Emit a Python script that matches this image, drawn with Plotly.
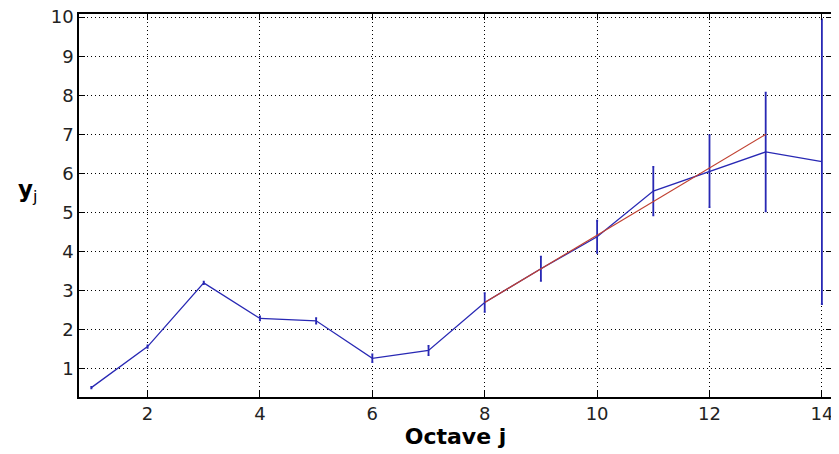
"""Logscale diagram: y_j vs octave j, with error bars and linear fit."""
import plotly.graph_objects as go

# --- data ---
octave = [1, 2, 3, 4, 5, 6, 7, 8, 9, 10, 11, 12, 13, 14]
y_j = [0.52, 1.57, 3.20, 2.29, 2.23, 1.27, 1.47, 2.70, 3.56, 4.38, 5.55, 6.06, 6.55, 6.30]
err = [0.02, 0.03, 0.03, 0.05, 0.07, 0.10, 0.12, 0.24, 0.31, 0.41, 0.62, 0.92, 1.52, 3.64]

fit_x = [8, 13]
fit_y = [2.70, 7.00]

x_ticks = [2, 4, 6, 8, 10, 12, 14]
y_ticks = [1, 2, 3, 4, 5, 6, 7, 8, 9, 10]

BLUE = "#2828b4"
RED = "#c04030"
FONT = "DejaVu Sans, Arial, sans-serif"

fig = go.Figure()
fig.add_trace(go.Scatter(
    x=octave, y=y_j, mode="lines",
    line=dict(color=BLUE, width=1.3),
    error_y=dict(type="data", array=err, visible=True,
                 color=BLUE, thickness=1.8, width=1),
    showlegend=False,
))
fig.add_trace(go.Scatter(
    x=fit_x, y=fit_y, mode="lines",
    line=dict(color=RED, width=1.2), showlegend=False,
))

# y_j label, horizontal like the original
fig.add_annotation(
    x=0.0, xref="paper", xanchor="right", xshift=-40,
    y=5.55, yref="y", showarrow=False,
    text="<b>y</b><sub>j</sub>",
    font=dict(family=FONT, size=23, color="black"),
)

axis_common = dict(
    showline=True, linecolor="black", linewidth=1.5, mirror="ticks",
    ticks="inside", ticklen=6, tickcolor="black", tickwidth=1.2,
    showgrid=True, gridcolor="black", griddash="1px,3px", gridwidth=1,
    zeroline=False, automargin=False, ticklabeloverflow="allow",
    tickfont=dict(family=FONT, size=18, color="#222"),
)
fig.update_xaxes(
    range=[0.78, 14.18], tickvals=x_ticks,
    title=dict(text="<b>Octave j</b>", standoff=4,
               font=dict(family=FONT, size=22, color="black")),
    **axis_common,
)
fig.update_yaxes(range=[0.28, 10.08], tickvals=y_ticks, **axis_common)

# page body has an 8px margin, so the figure is sized to fit inside it
fig.update_layout(
    width=831, height=446,
    margin=dict(l=71, r=7, t=6, b=57),
    plot_bgcolor="white", paper_bgcolor="white",
)
fig.write_html("out.html")
